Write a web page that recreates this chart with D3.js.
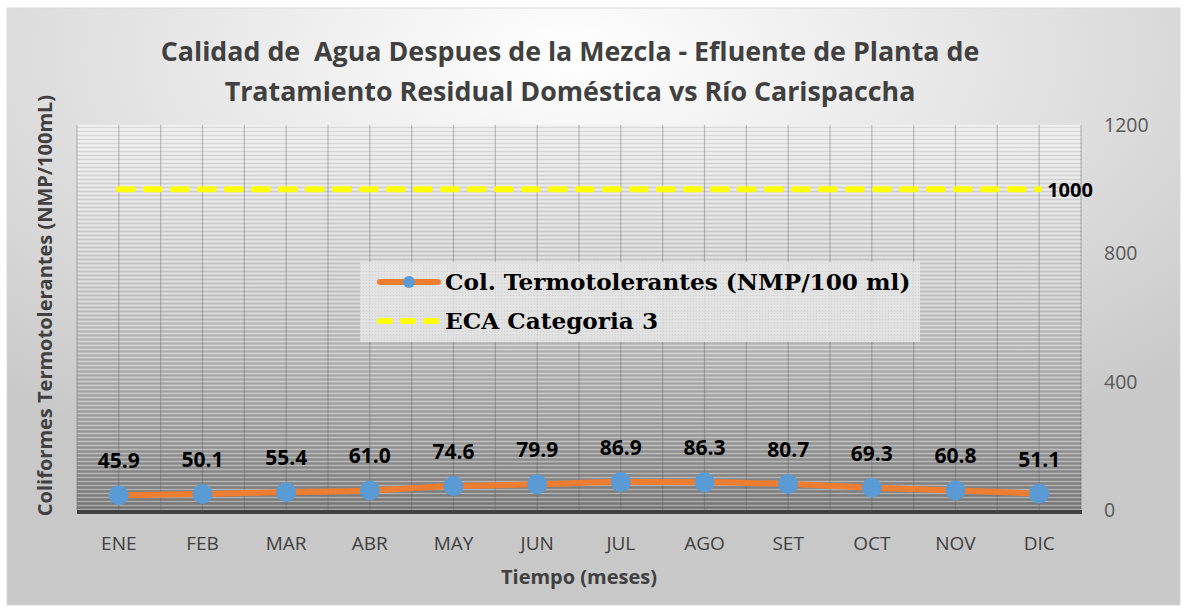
<!DOCTYPE html>
<html>
<head>
<meta charset="utf-8">
<script src="https://cdn.jsdelivr.net/npm/d3@7"></script>
<style>
  body { margin: 0; background: #fff; }
  svg { display: block; }
  text { white-space: pre; }
</style>
</head>
<body>
<svg width="1184" height="610"></svg>
<script>
const months = ['ENE', 'FEB', 'MAR', 'ABR', 'MAY', 'JUN', 'JUL', 'AGO', 'SET', 'OCT', 'NOV', 'DIC']
const coliformes = [45.9, 50.1, 55.4, 61.0, 74.6, 79.9, 86.9, 86.3, 80.7, 69.3, 60.8, 51.1]
const eca = [1000, 1000, 1000, 1000, 1000, 1000, 1000, 1000, 1000, 1000, 1000, 1000]
const yTicks = [0, 400, 800, 1200]
const titleLines = ['Calidad de  Agua Despues de la Mezcla - Efluente de Planta de',
  'Tratamiento Residual Doméstica vs Río Carispaccha']
const seriesNames = ['Col. Termotolerantes (NMP/100 ml)', 'ECA Categoria 3']

const svg = d3.select('svg')
const margin = {top: 125, right: 103, bottom: 100, left: 77}
const width = +svg.attr('width') - margin.left - margin.right
const height = +svg.attr('height') - margin.top - margin.bottom

const defs = svg.append('defs')
const bg = defs.append('radialGradient').attr('id', 'bg')
  .attr('cx', '0.48').attr('cy', '0.08').attr('r', '0.75')
bg.append('stop').attr('offset', '0').attr('stop-color', '#ffffff')
bg.append('stop').attr('offset', '1').attr('stop-color', '#c8c8c8')

const pg = defs.append('linearGradient').attr('id', 'plotbg')
  .attr('x1', 0).attr('y1', 0).attr('x2', 0).attr('y2', 1)
pg.append('stop').attr('offset', '0').attr('stop-color', '#ececec')
pg.append('stop').attr('offset', '0.45').attr('stop-color', '#cdcdcd')
pg.append('stop').attr('offset', '0.82').attr('stop-color', '#a0a0a0')
pg.append('stop').attr('offset', '1').attr('stop-color', '#7f7f7f')

const stripes = defs.append('pattern').attr('id', 'stripes')
  .attr('patternUnits', 'userSpaceOnUse').attr('width', 8).attr('height', 4)
stripes.append('rect').attr('width', 8).attr('height', 1).attr('fill', 'rgba(255,255,255,0.35)')
stripes.append('rect').attr('y', 2).attr('width', 8).attr('height', 1).attr('fill', 'rgba(0,0,0,0.08)')

const dots = defs.append('pattern').attr('id', 'dots')
  .attr('patternUnits', 'userSpaceOnUse').attr('width', 3).attr('height', 3)
dots.append('rect').attr('width', 3).attr('height', 3).attr('fill', '#e6e6e6')
dots.append('rect').attr('width', 1).attr('height', 1).attr('fill', '#d4d4d4')

svg.append('rect')
  .attr('x', 7).attr('y', 8).attr('width', 1173).attr('height', 597)
  .attr('fill', 'url(#bg)').attr('stroke', '#d9d9d9')

const x = d3.scaleBand().domain(months).range([0, width])
const y = d3.scaleLinear().domain([0, 1200]).range([height, 0])
const cx = (d) => x(d) + x.bandwidth() / 2

const g = svg.append('g').attr('transform', `translate(${margin.left},${margin.top})`)

g.append('rect').attr('width', width).attr('height', height).attr('fill', 'url(#plotbg)')
g.append('rect').attr('width', width).attr('height', height).attr('fill', 'url(#stripes)')

// vertical grid at every half category
const half = []
months.forEach((m) => { half.push(x(m)); half.push(cx(m)) })
half.push(width)
g.append('g').selectAll('line').data(half).join('line')
  .attr('x1', (d) => d).attr('x2', (d) => d)
  .attr('y1', 0).attr('y2', height)
  .attr('stroke', 'rgba(90,90,90,0.35)').attr('stroke-width', 1.2)

// x axis
g.append('line').attr('x1', 0).attr('x2', width + 1)
  .attr('y1', height + 2).attr('y2', height + 2)
  .attr('stroke', '#404040').attr('stroke-width', 4)

g.append('g').selectAll('text').data(months).join('text')
  .attr('x', cx).attr('y', height + 40)
  .attr('text-anchor', 'middle')
  .attr('font-family', 'Open Sans, sans-serif').attr('font-size', 19)
  .attr('fill', '#404040')
  .text((d) => d)

// right y axis labels
g.append('g').selectAll('text').data(yTicks).join('text')
  .attr('x', width + 23).attr('y', (d) => y(d) + 7)
  .attr('font-family', 'Open Sans, sans-serif').attr('font-size', 19.5)
  .attr('fill', '#595959')
  .text((d) => d)

// ECA line
const lineGen = d3.line().x((d, i) => cx(months[i])).y((d) => y(d))
g.append('path').datum(eca)
  .attr('d', lineGen)
  .attr('fill', 'none').attr('stroke', '#ffff00').attr('stroke-width', 6)
  .attr('stroke-linecap', 'round').attr('stroke-dasharray', '14 13')

g.append('text')
  .attr('x', cx(months[11]) + 8).attr('y', y(1000) + 8)
  .attr('font-family', 'Open Sans, sans-serif').attr('font-weight', 'bold')
  .attr('font-size', 20).attr('fill', '#000')
  .text(eca[11])

// coliformes line
g.append('path').datum(coliformes)
  .attr('d', lineGen.curve(d3.curveMonotoneX))
  .attr('fill', 'none').attr('stroke', '#ed7d31').attr('stroke-width', 6)
  .attr('stroke-linecap', 'round')

g.append('g').selectAll('circle').data(coliformes).join('circle')
  .attr('cx', (d, i) => cx(months[i])).attr('cy', (d) => y(d))
  .attr('r', 10).attr('fill', '#5b9bd5')

g.append('g').selectAll('text').data(coliformes).join('text')
  .attr('x', (d, i) => cx(months[i])).attr('y', (d) => y(d) - 27)
  .attr('text-anchor', 'middle')
  .attr('font-family', 'Open Sans, sans-serif').attr('font-weight', 'bold')
  .attr('font-size', 21).attr('fill', '#000')
  .text((d) => d.toFixed(1))

// legend
const lg = svg.append('g').attr('transform', 'translate(360,262)')
lg.append('rect').attr('width', 560).attr('height', 80).attr('fill', 'url(#dots)').attr('opacity', 0.85)
lg.append('line').attr('x1', 20).attr('x2', 78).attr('y1', 20).attr('y2', 20)
  .attr('stroke', '#ed7d31').attr('stroke-width', 6).attr('stroke-linecap', 'round')
lg.append('circle').attr('cx', 49).attr('cy', 20).attr('r', 6).attr('fill', '#5b9bd5')
lg.append('line').attr('x1', 20).attr('x2', 78).attr('y1', 59).attr('y2', 59)
  .attr('stroke', '#ffff00').attr('stroke-width', 6).attr('stroke-linecap', 'round')
  .attr('stroke-dasharray', '10 13')
lg.selectAll('text').data(seriesNames).join('text')
  .attr('x', 85).attr('y', (d, i) => 28 + i * 39)
  .attr('font-family', 'DejaVu Serif, serif').attr('font-weight', 'bold')
  .attr('font-size', 23.2).attr('fill', '#000')
  .text((d) => d)

// titles
svg.append('g').selectAll('text').data(titleLines).join('text')
  .attr('x', 570).attr('y', (d, i) => 61 + i * 40)
  .attr('text-anchor', 'middle')
  .attr('font-family', 'Open Sans, sans-serif').attr('font-weight', 'bold')
  .attr('font-size', 26.8).attr('fill', '#404040')
  .text((d) => d)

svg.append('text')
  .attr('transform', `translate(52,${margin.top + height / 2 - 12}) rotate(-90)`)
  .attr('text-anchor', 'middle')
  .attr('font-family', 'Open Sans, sans-serif').attr('font-weight', 'bold')
  .attr('font-size', 20).attr('fill', '#404040')
  .text('Coliformes Termotolerantes (NMP/100mL)')

svg.append('text')
  .attr('x', margin.left + width / 2).attr('y', 584)
  .attr('text-anchor', 'middle')
  .attr('font-family', 'Open Sans, sans-serif').attr('font-weight', 'bold')
  .attr('font-size', 20).attr('fill', '#404040')
  .text('Tiempo (meses)')
</script>
</body>
</html>
